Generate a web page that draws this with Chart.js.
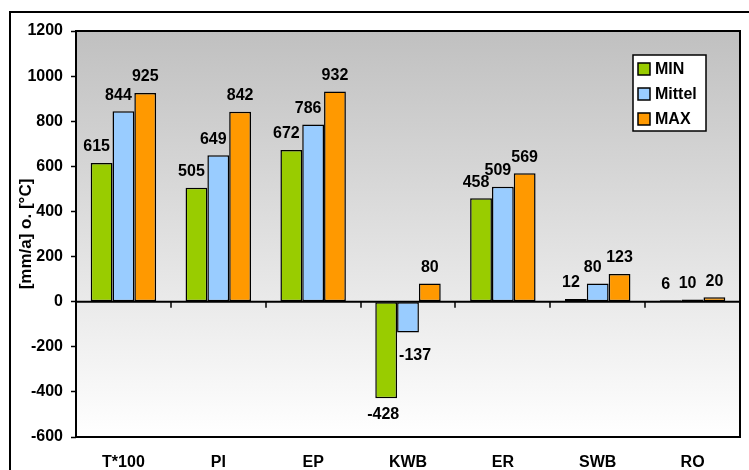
<!DOCTYPE html>
<html>
<head>
<meta charset="utf-8">
<script src="https://cdn.jsdelivr.net/npm/chart.js@4/dist/chart.umd.min.js"></script>
<style>
  html, body { margin: 0; padding: 0; background: #ffffff; }
  #wrap { position: relative; width: 749px; height: 470px; overflow: hidden; }
  canvas { display: block; }
</style>
</head>
<body>
<div id="wrap"><canvas id="c" width="749" height="470"></canvas></div>
<script>
const categories = ['T*100', 'PI', 'EP', 'KWB', 'ER', 'SWB', 'RO'];
const minValues = [615, 505, 672, -428, 458, 12, 6];
const mittelValues = [844, 649, 786, -137, 509, 80, 10];
const maxValues = [925, 842, 932, 80, 569, 123, 20];
const seriesNames = ['MIN', 'Mittel', 'MAX'];
const seriesColors = ['#99cc00', '#99ccff', '#ff9900'];
const yMin = -600, yMax = 1200, yStep = 200;
const yTitle = '[mm/a] o. [°C]';

const FONT = "'Liberation Sans', Arial, sans-serif";
const FS = 16;

const decorPlugin = {
  id: 'decor',
  beforeDraw(chart) {
    const ctx = chart.ctx, a = chart.chartArea;
    ctx.save();
    ctx.strokeStyle = '#000';
    ctx.lineWidth = 2;
    ctx.strokeRect(10, 12, 800, 520);
    const g = ctx.createLinearGradient(0, a.top, 0, a.bottom);
    g.addColorStop(0, '#c0c0c0');
    g.addColorStop(1, '#ffffff');
    ctx.fillStyle = g;
    ctx.fillRect(a.left, a.top, a.right - a.left, a.bottom - a.top);
    ctx.restore();
  },
  afterDatasetsDraw(chart) {
    const ctx = chart.ctx, a = chart.chartArea;
    const xs = chart.scales.x, ys = chart.scales.y;
    const y0 = ys.getPixelForValue(0);
    ctx.save();
    ctx.strokeStyle = '#000';
    ctx.lineWidth = 2;
    ctx.beginPath();
    ctx.moveTo(a.left, y0);
    ctx.lineTo(a.right, y0);
    ctx.stroke();
    ctx.lineWidth = 1.5;
    for (let i = 1; i < categories.length; i++) {
      const x = Math.round(xs.getPixelForValue(i - 0.5));
      ctx.beginPath();
      ctx.moveTo(x, y0);
      ctx.lineTo(x, y0 + 6);
      ctx.stroke();
    }
    ctx.lineWidth = 2;
    ctx.strokeRect(a.left, a.top, a.right - a.left, a.bottom - a.top);

    ctx.fillStyle = '#000';
    ctx.font = 'bold ' + FS + 'px ' + FONT;
    ctx.textBaseline = 'middle';
    chart.data.datasets.forEach((ds, di) => {
      const meta = chart.getDatasetMeta(di);
      meta.data.forEach((bar, i) => {
        const v = ds.data[i];
        const txt = String(v);
        let x = bar.x, y;
        ctx.textAlign = 'center';
        if (v >= 0) {
          y = bar.y - 16;
          if (di < 2) x -= 5;
        } else {
          y = bar.y + 16;
          const prev = di > 0 ? chart.data.datasets[di - 1].data[i] : 0;
          if (prev < v) {
            ctx.textAlign = 'left';
            x = bar.x - bar.width / 2 + 2;
            y = bar.y + 23;
          } else {
            x -= 3;
          }
        }
        ctx.fillText(txt, x, y);
      });
    });

    const lx = a.right - 107, ly = a.top + 24, lw = 73, lh = 76;
    ctx.fillStyle = '#ffffff';
    ctx.fillRect(lx, ly, lw, lh);
    ctx.strokeStyle = '#000';
    ctx.lineWidth = 1.5;
    ctx.strokeRect(lx, ly, lw, lh);
    ctx.textAlign = 'left';
    ctx.textBaseline = 'middle';
    ctx.font = 'bold ' + FS + 'px ' + FONT;
    chart.data.datasets.forEach((ds, di) => {
      const cy = ly + 14 + di * 25;
      ctx.fillStyle = ds.backgroundColor;
      ctx.fillRect(lx + 5, cy - 6, 12, 12);
      ctx.strokeStyle = '#000';
      ctx.lineWidth = 1.5;
      ctx.strokeRect(lx + 5, cy - 6, 12, 12);
      ctx.fillStyle = '#000';
      ctx.fillText(ds.label, lx + 22, cy + 1);
    });
    ctx.restore();
  }
};

const seriesData = [minValues, mittelValues, maxValues];

new Chart(document.getElementById('c'), {
  type: 'bar',
  data: {
    labels: categories,
    datasets: seriesNames.map((name, i) => ({
      label: name,
      data: seriesData[i],
      backgroundColor: seriesColors[i],
      borderColor: '#000000',
      borderWidth: 1.5,
      borderSkipped: false,
      categoryPercentage: 0.69,
      barPercentage: 1.0
    }))
  },
  options: {
    responsive: false,
    animation: false,
    devicePixelRatio: 1,
    layout: { padding: { left: 12, top: 31, right: 9, bottom: 0 } },
    plugins: {
      legend: { display: false },
      tooltip: { enabled: false }
    },
    scales: {
      x: {
        grid: { display: false, drawTicks: false },
        border: { display: false },
        ticks: {
          color: '#000',
          font: { family: FONT, size: FS, weight: 'bold' },
          padding: 16,
          maxRotation: 0
        },
        afterFit(s) { s.height = 33; }
      },
      y: {
        min: yMin,
        max: yMax,
        grid: {
          drawOnChartArea: false,
          drawTicks: true,
          tickLength: 5,
          tickColor: '#000',
          tickWidth: 1.5
        },
        border: { display: false },
        ticks: {
          stepSize: yStep,
          color: '#000',
          font: { family: FONT, size: FS, weight: 'bold' },
          padding: 8,
          callback: (v) => String(v)
        },
        title: {
          display: true,
          text: yTitle,
          color: '#000',
          font: { family: FONT, size: 17, weight: 'bold' },
          padding: { top: 4, bottom: 0 }
        },
        afterFit(s) { s.width = 64; }
      }
    }
  },
  plugins: [decorPlugin]
});
</script>
</body>
</html>
